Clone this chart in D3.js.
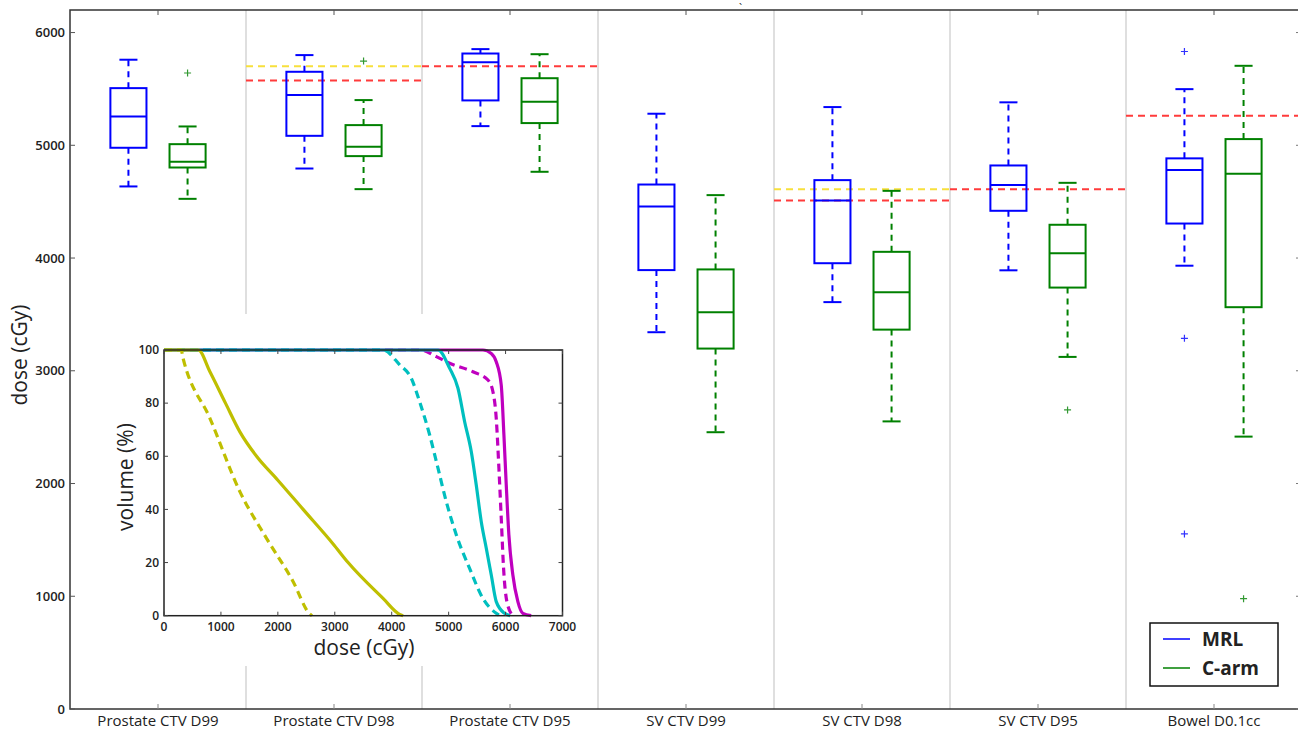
<html lang="en">
<head>
<meta charset="UTF-8"/>
<title>Dose boxplots</title>
<style>
    body { margin: 0; background: #fff; }
    svg { display: block; }
    text { font-family: "Open Sans", sans-serif; fill: #222; }
</style>
</head>
<body>
<svg width="1298" height="729"></svg>
<script src="https://d3js.org/d3.v7.min.js"></script>
<script>
// categories on the x axis
const categories = ["Prostate CTV D99", "Prostate CTV D98", "Prostate CTV D95",
    "SV CTV D99", "SV CTV D98", "SV CTV D95", "Bowel D0.1cc"];

// box stats: [lower whisker, q1, median, q3, upper whisker]
const mrlStats = [
    [4635, 4978, 5256, 5507, 5759],
    [4794, 5084, 5445, 5652, 5800],
    [5170, 5398, 5737, 5814, 5853],
    [3342, 3893, 4457, 4652, 5280],
    [3609, 3954, 4510, 4691, 5339],
    [3891, 4419, 4647, 4821, 5381],
    [3932, 4306, 4781, 4884, 5498]
];
const carmStats = [
    [4525, 4803, 4854, 5010, 5167],
    [4611, 4904, 4987, 5179, 5401],
    [4765, 5197, 5386, 5595, 5808],
    [2455, 3197, 3520, 3899, 4558],
    [2551, 3365, 3697, 4055, 4596],
    [3123, 3738, 4043, 4295, 4667],
    [2416, 3564, 4747, 5055, 5705]
];
const mrlOutliers = [[], [], [], [], [], [], [5832, 3288, 1553]];
const carmOutliers = [[5641], [5747], [], [], [], [2653], [979]];

// dose constraints per category (null = none)
const yellowLimits = [null, 5700, null, null, 4610, null, null];
const redLimits = [null, 5575, 5700, null, 4510, 4610, 5262];

const yTicks = [0, 1000, 2000, 3000, 4000, 5000, 6000];

// inset DVH curves: [dose cGy, volume %]
const dvhMagentaSolid = [[0, 100], [5602, 100], [5749, 98.7], [5836, 95.6], [5924, 86.8], [5971, 68],
    [6012, 49.2], [6058, 30.4], [6128, 15.3], [6216, 5.3], [6304, 0.9], [6450, 0]];
const dvhMagentaDashed = [[0, 100], [4520, 100], [4784, 97.5], [5018, 95], [5427, 91.8], [5690, 88.7],
    [5778, 84.3], [5836, 74.3], [5883, 55.5], [5924, 36.7], [5965, 17.8], [6023, 5.3], [6128, 0]];
const dvhCyanDashed = [[0, 100], [3848, 100], [4140, 94.4], [4345, 89.3], [4491, 80.5], [4667, 68],
    [4813, 55.5], [4959, 42.9], [5135, 30.4], [5368, 17.8], [5602, 6.5], [5836, 0.9], [5900, 0]];
const dvhCyanSolid = [[0, 100], [4813, 100], [5018, 93.1], [5164, 85.6], [5281, 73], [5398, 61.7],
    [5485, 49.2], [5573, 35.4], [5661, 25.4], [5749, 15.3], [5836, 5.3], [5982, 0.9], [6080, 0]];
const dvhYellowDashed = [[0, 100], [300, 100], [339, 96.6], [807, 74.3], [1333, 46.7], [1801, 29.1],
    [2269, 12.8], [2550, 0.9], [2600, 0]];
const dvhYellowSolid = [[0, 100], [602, 100], [807, 91.8], [1080, 80], [1333, 69.2], [1626, 60], [2000, 51],
    [2444, 40], [2971, 27], [3234, 20], [3848, 6.5], [4140, 0.5], [4200, 0]];

const dvhTicksX = [0, 1000, 2000, 3000, 4000, 5000, 6000, 7000];
const dvhTicksY = [0, 20, 40, 60, 80, 100];

const svg = d3.select("svg");

const mLeft = 70, mRight = 1302, mTop = 10, mBottom = 709;

const x = d3.scaleBand().domain(categories).range([mLeft, mRight]).padding(0);
const y = d3.scaleLinear().domain([0, 6200]).range([mBottom, mTop]);
const bw = x.bandwidth();
const offset = bw * 0.168;
const boxW = bw * 0.205;
const capW = boxW / 2;

// separators between categories
svg.append("g")
    .selectAll("line")
    .data(categories.slice(1))
    .join("line")
    .attr("x1", d => x(d)).attr("x2", d => x(d))
    .attr("y1", mTop).attr("y2", mBottom)
    .attr("stroke", "#d4d4d4")
    .attr("stroke-width", 1.5);

// constraint lines
function limitLines(values, color) {
    svg.append("g")
        .selectAll("line")
        .data(values.map((v, i) => ({v, c: categories[i]})).filter(d => d.v !== null))
        .join("line")
        .attr("x1", d => x(d.c)).attr("x2", d => x(d.c) + bw)
        .attr("y1", d => y(d.v)).attr("y2", d => y(d.v))
        .attr("stroke", color)
        .attr("stroke-width", 2)
        .attr("stroke-dasharray", "7,5");
}
limitLines(yellowLimits, "#f7e03c");
limitLines(redLimits, "#ff3b3b");

function drawBoxes(stats, outliers, color, dx) {
    const g = svg.append("g");
    stats.forEach((s, i) => {
        const cx = x(categories[i]) + bw / 2 + dx;
        const [lo, q1, med, q3, hi] = s;
        g.append("line").attr("x1", cx).attr("x2", cx).attr("y1", y(q3)).attr("y2", y(hi))
            .attr("stroke", color).attr("stroke-width", 2).attr("stroke-dasharray", "6,5");
        g.append("line").attr("x1", cx).attr("x2", cx).attr("y1", y(q1)).attr("y2", y(lo))
            .attr("stroke", color).attr("stroke-width", 2).attr("stroke-dasharray", "6,5");
        [lo, hi].forEach(v => g.append("line")
            .attr("x1", cx - capW / 2).attr("x2", cx + capW / 2)
            .attr("y1", y(v)).attr("y2", y(v))
            .attr("stroke", color).attr("stroke-width", 2));
        g.append("rect")
            .attr("x", cx - boxW / 2).attr("width", boxW)
            .attr("y", y(q3)).attr("height", y(q1) - y(q3))
            .attr("fill", "none").attr("stroke", color).attr("stroke-width", 2);
        g.append("line").attr("x1", cx - boxW / 2).attr("x2", cx + boxW / 2)
            .attr("y1", y(med)).attr("y2", y(med))
            .attr("stroke", color).attr("stroke-width", 2);
        outliers[i].forEach(v => {
            g.append("path")
                .attr("d", `M${cx - 3.5},${y(v)}h7M${cx},${y(v) - 3.5}v7`)
                .attr("stroke", color).attr("stroke-width", 1.2).attr("opacity", 0.8);
        });
    });
}
drawBoxes(mrlStats, mrlOutliers, "#0000ff", -offset);
drawBoxes(carmStats, carmOutliers, "#008000", offset);

// frame
svg.append("rect")
    .attr("x", mLeft).attr("y", mTop).attr("width", mRight - mLeft).attr("height", mBottom - mTop)
    .attr("fill", "none").attr("stroke", "#333").attr("stroke-width", 1.5);

// y ticks (left + right, inward) and labels
svg.append("g").selectAll("line").data(yTicks).join("line")
    .attr("x1", mLeft).attr("x2", mLeft + 5).attr("y1", d => y(d)).attr("y2", d => y(d))
    .attr("stroke", "#555");
svg.append("g").selectAll("line").data(yTicks).join("line")
    .attr("x1", mRight - 6).attr("x2", mRight).attr("y1", d => y(d)).attr("y2", d => y(d))
    .attr("stroke", "#777");
svg.append("g").selectAll("text").data(yTicks).join("text")
    .attr("x", mLeft - 5).attr("y", d => y(d)).attr("dy", "0.35em")
    .attr("text-anchor", "end").attr("font-size", 13).attr("font-weight", 600)
    .attr("fill", "#333")
    .text(d => d);

// x ticks (top + bottom, inward) and labels
svg.append("g").selectAll("line").data(categories).join("line")
    .attr("x1", d => x(d) + bw / 2).attr("x2", d => x(d) + bw / 2)
    .attr("y1", mTop).attr("y2", mTop + 5).attr("stroke", "#555");
svg.append("g").selectAll("line").data(categories).join("line")
    .attr("x1", d => x(d) + bw / 2).attr("x2", d => x(d) + bw / 2)
    .attr("y1", mBottom).attr("y2", mBottom - 5).attr("stroke", "#888");
svg.append("g").selectAll("text").data(categories).join("text")
    .attr("x", d => x(d) + bw / 2).attr("y", 726)
    .attr("text-anchor", "middle").attr("font-size", 15)
    .text(d => d);

svg.append("text")
    .attr("transform", "translate(27,355) rotate(-90)")
    .attr("text-anchor", "middle").attr("font-size", 21)
    .text("dose (cGy)");

// stray mark at the top
svg.append("text").attr("x", 739).attr("y", 12).attr("font-size", 11).attr("fill", "#555").text("`");

// legend
const legend = svg.append("g");
legend.append("rect").attr("x", 1150).attr("y", 623).attr("width", 128).attr("height", 63)
    .attr("fill", "#fff").attr("stroke", "#111").attr("stroke-width", 1.5);
[["MRL", "#0000ff", 639], ["C-arm", "#008000", 668]].forEach(([name, c, ly]) => {
    legend.append("line").attr("x1", 1163).attr("x2", 1190).attr("y1", ly).attr("y2", ly)
        .attr("stroke", c).attr("stroke-width", 1.5);
    legend.append("text").attr("x", 1202).attr("y", ly).attr("dy", "0.36em")
        .attr("font-size", 19).attr("font-weight", 700).attr("fill", "#000").text(name);
});

// ---- inset DVH plot ----
const inset = svg.append("g");
inset.append("rect").attr("x", 100).attr("y", 314).attr("width", 490).attr("height", 352).attr("fill", "#fff");

const ix = d3.scaleLinear().domain([0, 7000]).range([164, 562.5]);
const iy = d3.scaleLinear().domain([0, 100]).range([615.7, 350]);
const line = d3.line().x(d => ix(d[0])).y(d => iy(d[1])).curve(d3.curveMonotoneX);

const curves = [
    [dvhMagentaSolid, "#bf00bf", null],
    [dvhMagentaDashed, "#bf00bf", "8,5"],
    [dvhCyanDashed, "#00bfbf", "8,5"],
    [dvhCyanSolid, "#00bfbf", null],
    [dvhYellowDashed, "#bfbf00", "8,5"],
    [dvhYellowSolid, "#bfbf00", null]
];
inset.append("g").selectAll("path").data(curves).join("path")
    .attr("d", d => line(d[0]))
    .attr("fill", "none")
    .attr("stroke", d => d[1])
    .attr("stroke-width", 3.2)
    .attr("stroke-dasharray", d => d[2]);

inset.append("rect").attr("x", ix(0)).attr("y", iy(100))
    .attr("width", ix(7000) - ix(0)).attr("height", iy(0) - iy(100))
    .attr("fill", "none").attr("stroke", "#222").attr("stroke-width", 1.5);

inset.append("g").selectAll("line").data(dvhTicksX).join("line")
    .attr("x1", d => ix(d)).attr("x2", d => ix(d)).attr("y1", iy(0)).attr("y2", iy(0) - 4).attr("stroke", "#444");
inset.append("g").selectAll("line").data(dvhTicksX).join("line")
    .attr("x1", d => ix(d)).attr("x2", d => ix(d)).attr("y1", iy(100)).attr("y2", iy(100) + 4).attr("stroke", "#444");
inset.append("g").selectAll("line").data(dvhTicksY).join("line")
    .attr("x1", ix(0)).attr("x2", ix(0) + 4).attr("y1", d => iy(d)).attr("y2", d => iy(d)).attr("stroke", "#444");
inset.append("g").selectAll("line").data(dvhTicksY).join("line")
    .attr("x1", ix(7000)).attr("x2", ix(7000) - 4).attr("y1", d => iy(d)).attr("y2", d => iy(d)).attr("stroke", "#444");

inset.append("g").selectAll("text").data(dvhTicksX).join("text")
    .attr("x", d => ix(d)).attr("y", iy(0) + 11).attr("dy", "0.35em")
    .attr("text-anchor", "middle").attr("font-size", 12).attr("font-weight", 600).attr("fill", "#333")
    .text(d => d);
inset.append("g").selectAll("text").data(dvhTicksY).join("text")
    .attr("x", ix(0) - 5).attr("y", d => iy(d)).attr("dy", "0.35em")
    .attr("text-anchor", "end").attr("font-size", 12).attr("font-weight", 600).attr("fill", "#333")
    .text(d => d);

inset.append("text")
    .attr("x", 364).attr("y", 655)
    .attr("text-anchor", "middle").attr("font-size", 21).attr("fill", "#111")
    .text("dose (cGy)");
inset.append("text")
    .attr("transform", "translate(133,477) rotate(-90)")
    .attr("text-anchor", "middle").attr("font-size", 21).attr("fill", "#111")
    .text("volume (%)");
</script>
</body>
</html>
